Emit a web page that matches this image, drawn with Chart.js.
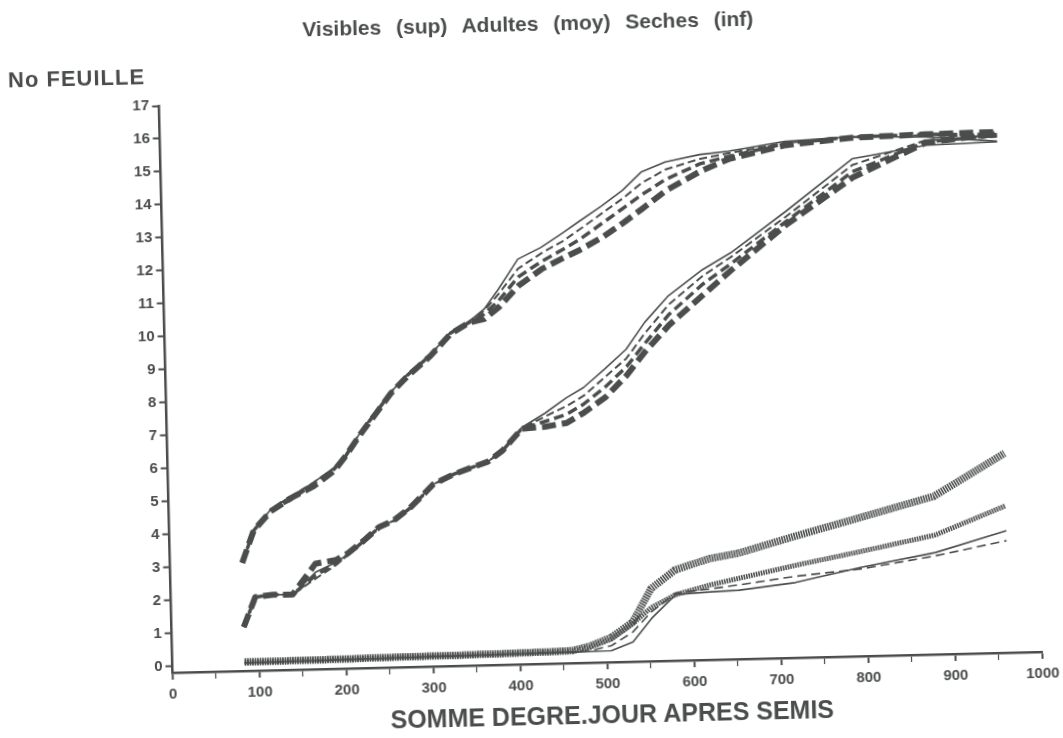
<!DOCTYPE html>
<html>
<head>
<meta charset="utf-8">
<script src="https://cdn.jsdelivr.net/npm/chart.js@4.4.1/dist/chart.umd.min.js"></script>
<style>
  html, body { margin: 0; padding: 0; background: #ffffff; overflow: hidden; }
  #page {
    position: absolute; left: 0; top: 0; width: 1063px; height: 738px;
    transform: rotate(-1.37deg); transform-origin: 531.5px 369px;
    font-family: "Liberation Sans", Arial, sans-serif; color: #4b4d4d; font-weight: bold;
  }
  #chart { position: absolute; left: 0; top: 0; }
  .txt { position: absolute; white-space: nowrap; }
  #title { left: 536px; top: 24px; transform: translate(-50%, -50%); font-size: 21px; word-spacing: 9px; }
  #ytitle { left: 15px; top: 68px; transform: translateY(-50%); font-size: 22px; letter-spacing: 1px; }
  #xtitle { left: 604px; top: 716px; transform: translate(-50%, -50%); font-size: 25px; }
</style>
</head>
<body>
<div id="page">
  <canvas id="chart" width="1063" height="738"></canvas>
  <div class="txt" id="title">Visibles (sup) Adultes (moy) Seches (inf)</div>
  <div class="txt" id="ytitle">No FEUILLE</div>
  <div class="txt" id="xtitle">SOMME DEGRE.JOUR APRES SEMIS</div>
</div>
<script>
// Observation dates (sum of degree-days after sowing)
const degreeDays = [83, 97, 117, 140, 167, 191, 205, 223, 241, 258, 278, 305, 329, 350, 368, 385, 408, 435, 460, 480, 505, 530, 552, 580, 620, 653, 718, 795, 880, 962];

// Visible leaves (upper group)
const visibleSolid     = [3.08, 4.07, 4.67, 5.05, 5.46, 5.90, 6.29, 6.97, 7.57, 8.14, 8.67, 9.26, 9.92, 10.23, 10.60, 11.20, 12.09, 12.43, 12.85, 13.20, 13.63, 14.10, 14.64, 14.93, 15.13, 15.21, 15.47, 15.56, 15.50, 15.32];
const visibleDashThin  = [3.08, 4.07, 4.67, 5.05, 5.46, 5.88, 6.29, 6.97, 7.57, 8.14, 8.67, 9.26, 9.92, 10.23, 10.55, 11.05, 11.80, 12.25, 12.60, 12.95, 13.40, 13.85, 14.30, 14.70, 15.00, 15.15, 15.42, 15.55, 15.55, 15.45];
const visibleDashMed   = [3.08, 4.05, 4.65, 4.95, 5.42, 5.85, 6.25, 6.95, 7.55, 8.12, 8.65, 9.24, 9.90, 10.20, 10.45, 10.85, 11.55, 12.00, 12.35, 12.65, 13.10, 13.55, 13.95, 14.40, 14.85, 15.05, 15.40, 15.55, 15.58, 15.52];
const visibleDashThick = [3.08, 4.05, 4.62, 5.00, 5.35, 5.80, 6.25, 6.92, 7.52, 8.10, 8.62, 9.22, 9.88, 10.20, 10.30, 10.65, 11.28, 11.77, 12.09, 12.33, 12.68, 13.11, 13.52, 14.06, 14.62, 14.97, 15.35, 15.53, 15.58, 15.60];

// Adult leaves (middle group)
const adultSolid     = [1.13, 2.03, 2.09, 2.08, 2.74, 3.03, 3.27, 3.66, 4.06, 4.25, 4.64, 5.33, 5.62, 5.81, 5.97, 6.29, 6.98, 7.40, 7.85, 8.15, 8.70, 9.28, 10.08, 10.87, 11.64, 12.13, 13.36, 14.89, 15.25, 15.30];
const adultDashThin  = [1.13, 2.03, 2.09, 2.08, 2.55, 2.95, 3.25, 3.64, 4.05, 4.24, 4.63, 5.32, 5.62, 5.81, 5.97, 6.29, 6.96, 7.30, 7.60, 7.90, 8.45, 9.00, 9.75, 10.60, 11.45, 12.00, 13.20, 14.70, 15.40, 15.45];
const adultDashMed   = [1.13, 2.03, 2.09, 2.08, 2.65, 3.00, 3.26, 3.65, 4.05, 4.24, 4.63, 5.32, 5.62, 5.81, 5.97, 6.29, 6.95, 7.15, 7.35, 7.65, 8.15, 8.75, 9.45, 10.30, 11.20, 11.80, 13.05, 14.50, 15.35, 15.50];
const adultDashThick = [1.13, 2.03, 2.09, 2.08, 3.00, 3.10, 3.30, 3.66, 4.06, 4.25, 4.64, 5.33, 5.62, 5.81, 5.97, 6.29, 6.94, 6.99, 7.09, 7.39, 7.84, 8.49, 9.20, 9.98, 10.87, 11.60, 12.95, 14.32, 15.33, 15.54];

// Dry leaves (lower group)
const drySolid      = [0.05, 0.05, 0.05, 0.06, 0.06, 0.07, 0.07, 0.08, 0.08, 0.09, 0.09, 0.10, 0.10, 0.11, 0.11, 0.12, 0.12, 0.13, 0.13, 0.14, 0.15, 0.40, 1.10, 1.80, 1.86, 1.89, 2.08, 2.50, 2.89, 3.50];
const dryDash       = [0.05, 0.05, 0.05, 0.06, 0.06, 0.07, 0.07, 0.08, 0.08, 0.09, 0.09, 0.10, 0.10, 0.11, 0.11, 0.12, 0.12, 0.13, 0.14, 0.16, 0.30, 0.70, 1.30, 1.85, 1.95, 2.05, 2.27, 2.45, 2.79, 3.20];
const dryHatchMed   = [0.06, 0.06, 0.06, 0.07, 0.07, 0.08, 0.08, 0.09, 0.09, 0.10, 0.10, 0.11, 0.11, 0.12, 0.12, 0.13, 0.14, 0.15, 0.17, 0.28, 0.50, 0.95, 1.43, 1.80, 2.07, 2.25, 2.60, 2.98, 3.42, 4.26];
const dryHatchThick = [0.07, 0.07, 0.07, 0.08, 0.08, 0.09, 0.09, 0.10, 0.10, 0.11, 0.11, 0.12, 0.12, 0.13, 0.13, 0.14, 0.15, 0.16, 0.18, 0.30, 0.55, 1.00, 2.00, 2.55, 2.87, 3.01, 3.48, 4.01, 4.60, 5.85];

// Axis ticks
const yTickValues = [0, 1, 2, 3, 4, 5, 6, 7, 8, 9, 10, 11, 12, 13, 14, 15, 16, 17];
const xMin = 0, xMax = 1000, xStep = 50, xLabelEvery = 100;

const INK = '#4b4d4d';

function line(label, values, width, dash) {
  return {
    label: label,
    data: degreeDays.map((d, i) => ({ x: d, y: values[i] })),
    borderColor: INK,
    backgroundColor: INK,
    borderWidth: width,
    borderDash: dash,
    borderCapStyle: 'butt',
    borderJoinStyle: 'round',
    pointRadius: 0,
    fill: false,
    tension: 0
  };
}

const datasets = [
  line('Visibles 1', visibleSolid, 1.6, []),
  line('Visibles 2', visibleDashThin, 2, [8, 4]),
  line('Visibles 3', visibleDashMed, 3.5, [10, 5]),
  line('Visibles 4', visibleDashThick, 6, [14, 6]),
  line('Adultes 1', adultSolid, 1.6, []),
  line('Adultes 2', adultDashThin, 2, [8, 4]),
  line('Adultes 3', adultDashMed, 3.5, [10, 5]),
  line('Adultes 4', adultDashThick, 6, [14, 6]),
  line('Seches 1', drySolid, 1.6, []),
  line('Seches 2', dryDash, 1.6, [9, 5]),
  line('Seches 3', dryHatchMed, 5, [1.6, 0.9]),
  line('Seches 4', dryHatchThick, 7.5, [1.6, 0.9])
];

const tickFont = { family: '"Liberation Sans", Arial, sans-serif', size: 15, weight: 'bold' };

new Chart(document.getElementById('chart'), {
  type: 'line',
  data: { datasets: datasets },
  options: {
    responsive: false,
    animation: false,
    events: [],
    layout: { padding: { top: 97, right: 27.6, bottom: 0, left: 0 } },
    plugins: { legend: { display: false }, tooltip: { enabled: false }, title: { display: false } },
    scales: {
      x: {
        type: 'linear',
        min: xMin, max: xMax,
        border: { display: true, color: INK, width: 2.5 },
        grid: { drawOnChartArea: false, drawTicks: true, tickLength: 7, tickColor: INK,
                tickWidth: (ctx) => (ctx.tick && ctx.tick.value % xLabelEvery === 0 ? 2 : 1.2) },
        ticks: {
          stepSize: xStep, autoSkip: false, maxRotation: 0, padding: 6,
          color: INK, font: tickFont,
          callback: (v) => (v % xLabelEvery === 0 ? String(v) : '')
        },
        afterFit: (scale) => { scale.height = 74; }
      },
      y: {
        type: 'linear',
        min: -0.2, max: 17,
        border: { display: true, color: INK, width: 2.5 },
        grid: { drawOnChartArea: false, drawTicks: true, tickLength: 7, tickColor: INK, tickWidth: 2 },
        ticks: { color: INK, font: tickFont, padding: 3, autoSkip: false },
        afterBuildTicks: (scale) => { scale.ticks = yTickValues.map(v => ({ value: v })); },
        afterFit: (scale) => { scale.width = 165.5; }
      }
    }
  }
});
</script>
</body>
</html>
